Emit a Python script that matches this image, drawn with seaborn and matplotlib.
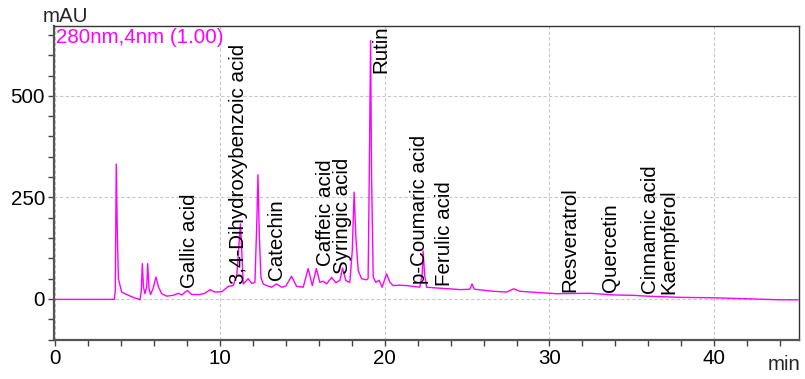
import numpy as np
import pandas as pd
import matplotlib
matplotlib.use("Agg")
import matplotlib.pyplot as plt
import seaborn as sns
from matplotlib.ticker import MultipleLocator

# chromatogram trace (time in min, signal in mAU)
time_min = [0.00, 3.58, 3.64, 3.70, 3.77, 3.83, 3.93, 4.03, 4.33, 4.73, 5.02, 5.14,
            5.22, 5.28, 5.35, 5.44, 5.55, 5.61, 5.69, 5.78, 5.93, 6.11, 6.26, 6.46,
            6.76, 7.16, 7.46, 7.68, 8.01, 8.28, 8.78, 9.09, 9.39, 9.69, 10.12, 10.50,
            10.80, 11.02, 11.24, 11.41, 11.71, 11.94, 12.12, 12.24, 12.30, 12.39, 12.48,
            12.62, 12.83, 13.13, 13.43, 13.74, 14.00, 14.34, 14.65, 15.05, 15.35, 15.60,
            15.85, 16.06, 16.26, 16.47, 16.77, 17.03, 17.28, 17.44, 17.64, 17.88, 18.03,
            18.14, 18.25, 18.39, 18.59, 18.90, 18.99, 19.06, 19.14, 19.20, 19.30, 19.46,
            19.66, 19.84, 20.11, 20.31, 20.51, 20.92, 21.32, 21.72, 22.13, 22.27, 22.33,
            22.42, 22.54, 23.14, 23.95, 24.56, 25.17, 25.30, 25.44, 26.58, 27.39, 27.83,
            28.20, 29.61, 30.42, 32.45, 33.86, 35.07, 35.89, 37.91, 39.93, 41.95, 43.97,
            45.10]
signal_mau = [-1, -1, 20, 332, 150, 50, 33, 17, 11, 4, 0, -2,
              20, 87, 30, 13, 30, 87, 25, 11, 25, 54, 30, 13,
              7, 9, 14, 10, 21, 11, 11, 14, 23, 17, 18, 31,
              33, 60, 185, 37, 50, 38, 41, 200, 306, 150, 54,
              37, 33, 29, 37, 29, 32, 56, 31, 29, 75, 33,
              75, 41, 44, 37, 53, 40, 46, 76, 45, 41, 120,
              263, 150, 70, 50, 47, 50, 300, 636, 300, 54, 41,
              46, 29, 62, 41, 33, 34, 33, 31, 29, 60, 118,
              60, 29, 27, 25, 23, 24, 37, 24, 19, 17, 25,
              19, 15, 13, 14, 10, 9, 7, 4, 3, 0.5, -2,
              -2]

# compound labels: name, time of label centre, signal at label foot
compounds = ["Gallic acid", "3,4-Dihydroxybenzoic acid", "Catechin", "Caffeic acid",
             "Syringic acid", "Rutin", "p-Coumaric acid", "Ferulic acid", "Resveratrol",
             "Quercetin", "Cinnamic acid", "Kaempferol"]
label_time = [8.12, 11.15, 13.40, 16.40, 17.44, 19.77, 22.10, 23.63, 31.26, 33.72, 36.12, 37.24]
label_foot = [26, 37, 47, 80, 62, 557, 37, 33, 17, 17, 13, 13]

trace = pd.DataFrame({"time": time_min, "mAU": signal_mau})

sns.set_style("white")
plt.rcParams['font.family'] = ['Liberation Sans', 'DejaVu Sans']

fig = plt.figure(figsize=(8.05, 3.79), dpi=100)
ax = fig.add_axes([54 / 805, 1 - 340 / 379, 745 / 805, 314 / 379])

sns.lineplot(data=trace, x="time", y="mAU", ax=ax, color="#ff00ff", linewidth=1.0,
             sort=False, estimator=None)

ax.set_xlim(-0.08, 45.15)
ax.set_ylim(-101, 672)
ax.xaxis.set_major_locator(MultipleLocator(10))
ax.xaxis.set_minor_locator(MultipleLocator(2))
ax.yaxis.set_major_locator(MultipleLocator(250))
ax.yaxis.set_minor_locator(MultipleLocator(50))
ax.grid(True, which="major", color="#c8c8c8", linestyle=(0, (3, 2)), linewidth=0.8)
ax.tick_params(which="both", direction="out", length=4.5, width=1, color="#444444",
               labelsize=14.8, labelcolor="black", bottom=True, left=True, pad=2)
ax.set_xlabel("")
ax.set_ylabel("")

for side in ["left", "bottom"]:
    ax.spines[side].set_color("#555555")
    ax.spines[side].set_linewidth(1.6)
for side in ["top", "right"]:
    ax.spines[side].set_color("#333333")
    ax.spines[side].set_linewidth(1.0)

for name, t, v in zip(compounds, label_time, label_foot):
    ax.text(t, v, name, rotation=90, ha="center", va="bottom", fontsize=14.8, color="black")

fig.text(43 / 805, 1 - 17 / 379, "mAU", ha="left", va="center", fontsize=14.8)
fig.text(784 / 805, 1 - 365 / 379, "min", ha="center", va="center", fontsize=14.8)
fig.text(56 / 805, 1 - 37.5 / 379, "280nm,4nm (1.00)", ha="left", va="center",
         fontsize=14.8, color="#ff00ff")

fig.savefig("out.png", dpi=100)
